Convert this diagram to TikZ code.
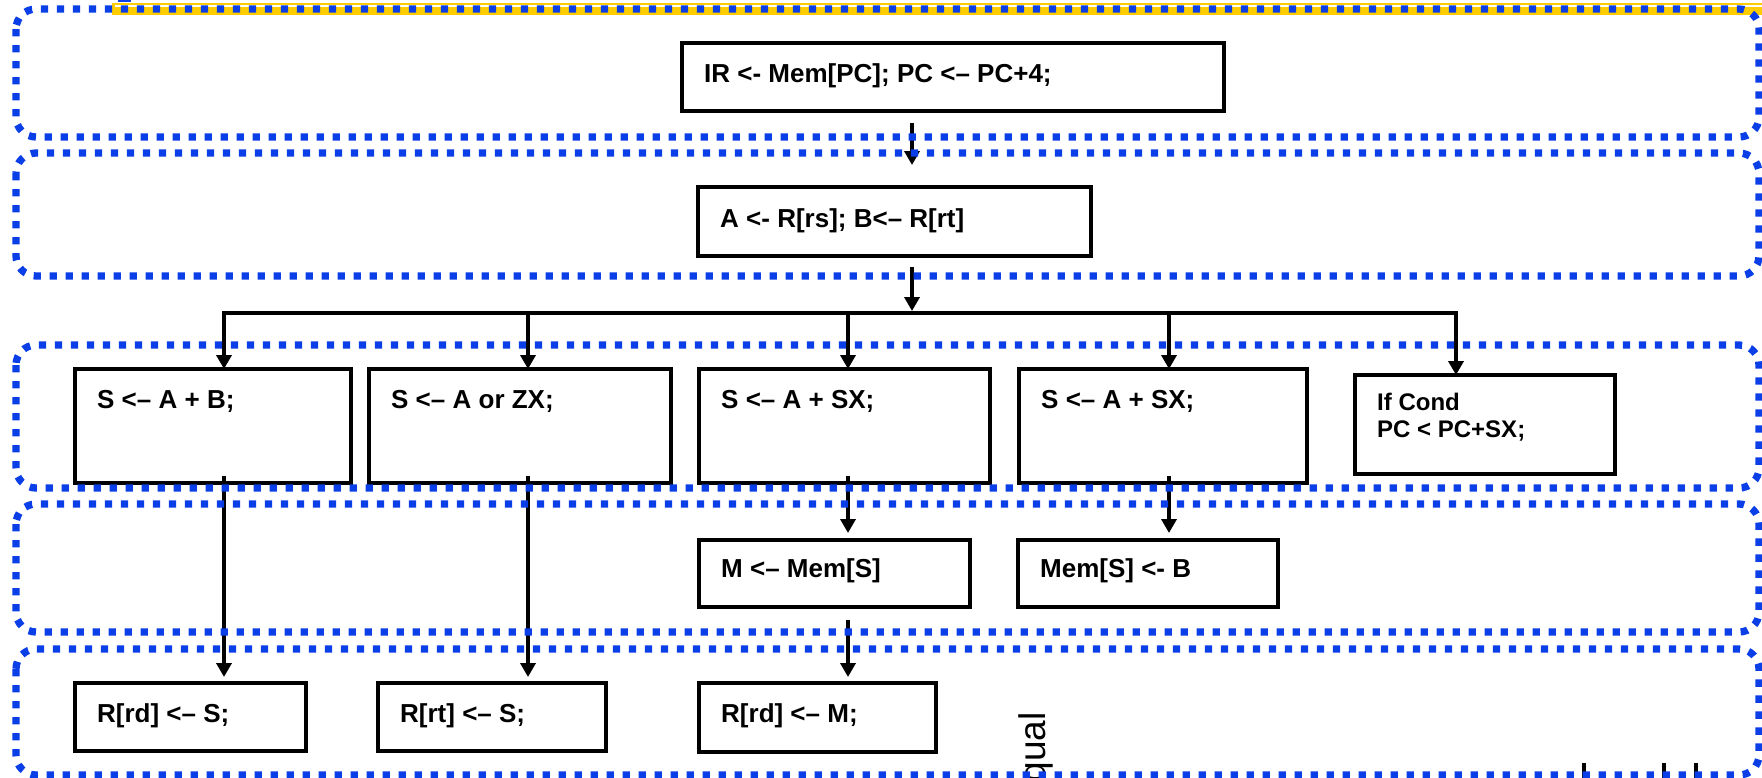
\documentclass[tikz,border=0pt]{standalone}
\usepackage{fontspec}
\setmainfont{Liberation Sans}
\usetikzlibrary{arrows.meta,calc,fit}
\definecolor{laneblue}{RGB}{10,62,230}
\definecolor{selyellow}{RGB}{255,204,0}

\begin{document}
\begin{tikzpicture}[x=1pt,y=-1pt,
  lane/.style={draw=laneblue,line width=7.3pt,dash pattern=on 7.3pt off 8.7pt,rounded corners=20pt},
  stepbox/.style={draw=black,line width=4.5pt,inner sep=0pt,outer sep=0pt},
  lbl/.style={anchor=base west,inner sep=0pt,font=\fontsize{26}{31}\selectfont\bfseries},
  smalllbl/.style={anchor=base west,inner sep=0pt,font=\fontsize{24}{27}\selectfont\bfseries},
  flow/.style={draw=black,line width=4.5pt,-{Triangle[width=15pt,length=14pt]}},
  bus/.style={draw=black,line width=4.5pt,line cap=rect},
  tick/.style={draw=black,line width=4pt},
]
\useasboundingbox (0,0) rectangle (1762,777);
\clip (0,0) rectangle (1762,777);

% selection highlight along the top edge
\fill[selyellow] (112,3) rectangle (1762,15);
\draw[white,line width=1.7pt] (115,5.9) -- (1762,5.9);
\fill[laneblue] (118,0) rectangle (131,2);

% step boxes
\node[stepbox,fit={(682,43) (1224,111)}] (ir) {};
\node[stepbox,fit={(698,187) (1091,256)}] (ab) {};
\node[stepbox,fit={(75,369) (351,483)}] (s1) {};
\node[stepbox,fit={(369,369) (671,483)}] (s2) {};
\node[stepbox,fit={(699,369) (990,483)}] (s3) {};
\node[stepbox,fit={(1019,369) (1307,483)}] (s4) {};
\node[stepbox,fit={(1355,375) (1615,474)}] (br) {};
\node[stepbox,fit={(699,540) (970,607)}] (m) {};
\node[stepbox,fit={(1018,540) (1278,607)}] (st) {};
\node[stepbox,fit={(75,683) (306,751)}] (w1) {};
\node[stepbox,fit={(378,683) (606,751)}] (w2) {};
\node[stepbox,fit={(699,683) (936,752)}] (w3) {};

% box texts
\node[lbl] (ir-t) at (704,82) {IR <- Mem[PC]; PC <– PC+4;};
\node[lbl] (ab-t) at (720,227) {A <- R[rs]; B<– R[rt]};
\node[lbl] (s1-t) at (97,408) {S <– A + B;};
\node[lbl] (s2-t) at (391,408) {S <– A or ZX;};
\node[lbl] (s3-t) at (721,408) {S <– A + SX;};
\node[lbl] (s4-t) at (1041,408) {S <– A + SX;};
\node[smalllbl] (br-t1) at (1377,410) {If Cond};
\node[smalllbl] (br-t2) at (1377,437) {PC < PC+SX;};
\node[lbl] (m-t) at (721,577) {M <– Mem[S]};
\node[lbl] (st-t) at (1040,577) {Mem[S] <- B};
\node[lbl] (w1-t) at (97,722) {R[rd] <– S;};
\node[lbl] (w2-t) at (400,722) {R[rt] <– S;};
\node[lbl] (w3-t) at (721,722) {R[rd] <– M;};

% branch points on the distribution bar
\coordinate (trunk) at (912,313);
\coordinate (j1) at (224,313);
\coordinate (j2) at (528,313);
\coordinate (j3) at (848,313);
\coordinate (j4) at (1169,313);
\coordinate (j5) at (1456,313);

% connectors
\draw[flow] ($(trunk |- ir.south)+(0,12)$) -- ($(trunk |- ab.north)+(0,-22)$);
\draw[flow] ($(trunk |- ab.south)+(0,11)$) -- ($(trunk)+(0,-2)$);
\draw[bus] (j1) -- (j5);
\draw[flow] (j1) -- (j1 |- s1.north);
\draw[flow] (j2) -- (j2 |- s2.north);
\draw[flow] (j3) -- (j3 |- s3.north);
\draw[flow] (j4) -- (j4 |- s4.north);
\draw[flow] (j5) -- (j5 |- br.north);
\draw[flow] ($(j3 |- s3.south)+(0,-7)$) -- ($(j3 |- m.north)+(0,-7)$);
\draw[flow] ($(j4 |- s4.south)+(0,-7)$) -- ($(j4 |- st.north)+(0,-7)$);
\draw[flow] ($(j3 |- m.south)+(0,13)$) -- ($(j3 |- w3.north)+(0,-6)$);
\draw[flow] ($(j1 |- s1.south)+(0,-7)$) -- ($(j1 |- w1.north)+(0,-6)$);
\draw[flow] ($(j2 |- s2.south)+(0,-7)$) -- ($(j2 |- w2.north)+(0,-6)$);

% stray rotated caption and tick marks at the bottom
\node[anchor=base east,rotate=90,inner sep=0pt,font=\fontsize{37}{40}\selectfont] (eq) at (1045,712) {qual};
\coordinate (k1) at (1584,763);
\coordinate (k2) at (1664,763);
\coordinate (k3) at (1696,763);
\draw[tick] (k1) -- ++(0,20);
\draw[tick] (k2) -- ++(0,20);
\draw[tick] (k3) -- ++(0,20);

% dotted stage lanes
\draw[lane] (16,9) rectangle (1759,137);
\draw[lane] (16,153) rectangle (1759,276);
\draw[lane] (16,345) rectangle (1759,488);
\draw[lane] (16,504) rectangle (1759,632);
\draw[lane] (16,649) rectangle (1759,775);
\end{tikzpicture}
\end{document}
